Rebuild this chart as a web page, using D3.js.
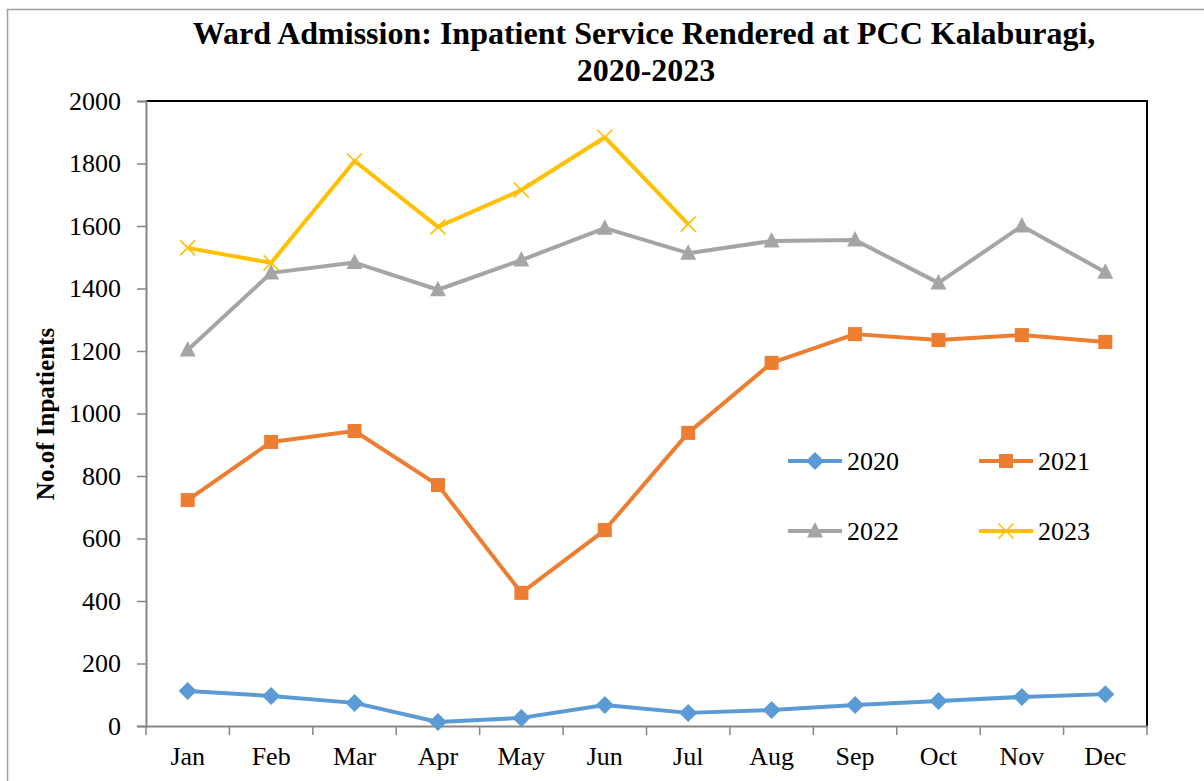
<!DOCTYPE html>
<html lang="en">
<head>
  <meta charset="UTF-8">
  <title>Ward Admission</title>
  <style>
    body { margin: 0; background: #fff; }
    text { font-family: "Liberation Serif", "Times New Roman", serif; }
  </style>
</head>
<body>
  <svg id="svg" width="1204" height="781"></svg>
  <script src="https://d3js.org/d3.v7.min.js"></script>
  <script>
    const months = ['Jan', 'Feb', 'Mar', 'Apr', 'May', 'Jun', 'Jul', 'Aug', 'Sep', 'Oct', 'Nov', 'Dec']
    const y2020 = [112, 96, 74, 13, 26, 67, 42, 51, 67, 80, 93, 102]
    const y2021 = [723, 909, 944, 771, 426, 627, 938, 1162, 1254, 1235, 1251, 1229]
    const y2022 = [1203, 1450, 1483, 1396, 1491, 1593, 1513, 1552, 1555, 1418, 1600, 1452]
    const y2023 = [1530, 1482, 1808, 1597, 1715, 1884, 1606]
    const yTicks = [0, 200, 400, 600, 800, 1000, 1200, 1400, 1600, 1800, 2000]

    const series = [
      { name: '2020', values: y2020, color: '#5B9BD5', marker: 'diamond' },
      { name: '2021', values: y2021, color: '#ED7D31', marker: 'square' },
      { name: '2022', values: y2022, color: '#A5A5A5', marker: 'triangle' },
      { name: '2023', values: y2023, color: '#FFC000', marker: 'cross' }
    ]

    const serif = '"Liberation Serif", "Times New Roman", serif'
    const svg = d3.select('#svg')
    const plotL = 146, plotR = 1147, plotT = 101, plotB = 726

    // outer chart frame
    svg.append('rect').attr('x', 7.5).attr('y', 9.5).attr('width', 1220).attr('height', 800)
      .attr('fill', 'none').attr('stroke', '#a0a0a0').attr('stroke-width', 1.5)

    const x = d3.scaleBand().domain(months).range([plotL, plotR])
    const y = d3.scaleLinear().domain([0, 2000]).range([plotB, plotT])

    // title
    const title = svg.append('text').attr('text-anchor', 'middle')
      .attr('font-size', 32).attr('font-weight', 'bold').attr('font-family', serif)
    title.append('tspan').attr('x', 644).attr('y', 44).text('Ward Admission: Inpatient Service Rendered at PCC Kalaburagi,')
    title.append('tspan').attr('x', 646).attr('y', 81).text('2020-2023')

    // top + right frame of plot area
    svg.append('path')
      .attr('d', `M${plotL},${plotT}H${plotR}V${plotB}`)
      .attr('fill', 'none').attr('stroke', '#000').attr('stroke-width', 2)

    // y axis
    const yAxis = svg.append('g').attr('transform', `translate(${plotL},0)`)
      .call(d3.axisLeft(y).tickValues(yTicks).tickFormat(d3.format('d')).tickSize(9).tickPadding(16))
    yAxis.select('.domain').attr('stroke', '#868686').attr('stroke-width', 2)
    yAxis.selectAll('.tick line').attr('stroke', '#868686').attr('stroke-width', 1.5)
    yAxis.selectAll('.tick text').attr('font-size', 26).attr('fill', '#000')
      .attr('font-family', serif)

    // x axis
    const xAxis = svg.append('g').attr('transform', `translate(0,${plotB})`)
      .call(d3.axisBottom(x).tickSize(0).tickPadding(21))
    xAxis.select('.domain').attr('stroke', '#868686').attr('stroke-width', 2)
    xAxis.selectAll('.tick text').attr('font-size', 26).attr('fill', '#000')
      .attr('font-family', serif)
    xAxis.selectAll('.bound').data(months.concat(['end'])).enter().append('line')
      .attr('x1', (d, i) => i < 12 ? x(d) : plotR).attr('x2', (d, i) => i < 12 ? x(d) : plotR)
      .attr('y1', 0).attr('y2', 9).attr('stroke', '#868686').attr('stroke-width', 1.5)

    // y label
    svg.append('text')
      .attr('transform', 'translate(54,414) rotate(-90)')
      .attr('text-anchor', 'middle').attr('font-size', 25).attr('font-weight', 'bold')
      .attr('font-family', serif)
      .text('No.of Inpatients')

    const cx = (i) => x(months[i]) + x.bandwidth() / 2

    function drawMarker(g, type, color) {
      if (type === 'diamond') {
        g.append('path').attr('d', 'M0,-9L9,0L0,9L-9,0Z').attr('fill', color)
      } else if (type === 'square') {
        g.append('rect').attr('x', -7).attr('y', -7).attr('width', 14).attr('height', 14).attr('fill', color)
      } else if (type === 'triangle') {
        g.append('path').attr('d', 'M0,-9L8,6.5L-8,6.5Z').attr('fill', color)
      } else {
        g.append('path').attr('d', 'M-7.5,-7.5L7.5,7.5M-7.5,7.5L7.5,-7.5').attr('stroke', color).attr('stroke-width', 1.6)
      }
    }

    const line = d3.line().x((d, i) => cx(i)).y(d => y(d))

    series.forEach(s => {
      svg.append('path').datum(s.values).attr('d', line)
        .attr('fill', 'none').attr('stroke', s.color).attr('stroke-width', 4)
        .attr('stroke-linejoin', 'round')
      s.values.forEach((v, i) => {
        const g = svg.append('g').attr('transform', `translate(${cx(i)},${y(v)})`)
        drawMarker(g, s.marker, s.color)
      })
    })

    // legend
    const legendPos = [[788, 461], [979, 461], [788, 531], [979, 531]]
    series.forEach((s, i) => {
      const [lx, ly] = legendPos[i]
      const g = svg.append('g').attr('transform', `translate(${lx},${ly})`)
      g.append('line').attr('x1', 0).attr('x2', 54).attr('y1', 0).attr('y2', 0)
        .attr('stroke', s.color).attr('stroke-width', 4)
      const m = g.append('g').attr('transform', 'translate(27,0)')
      drawMarker(m, s.marker, s.color)
      g.append('text').attr('x', 59).attr('y', 9).attr('font-size', 26)
        .attr('font-family', serif).text(s.name)
    })
  </script>
</body>
</html>
